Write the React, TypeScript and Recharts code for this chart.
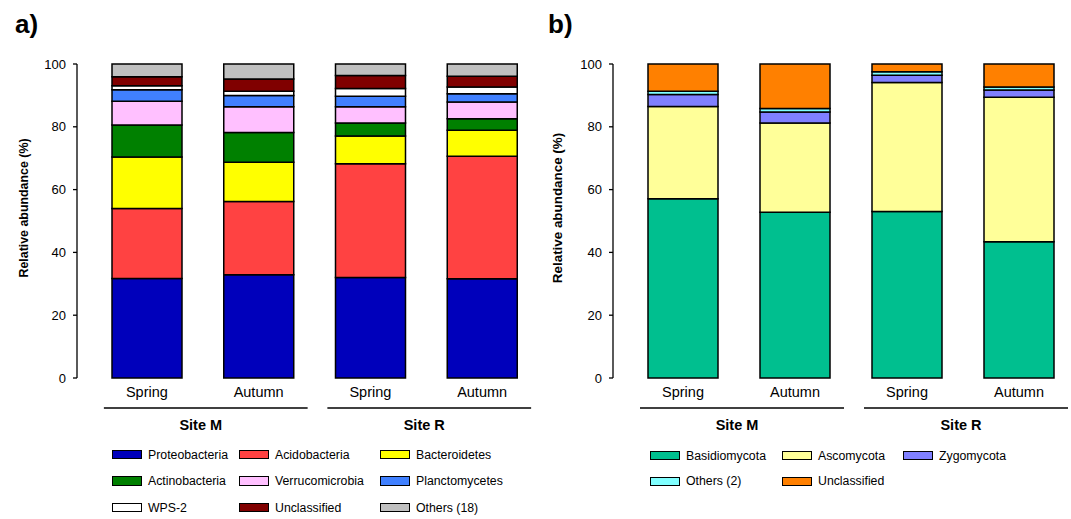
import React from 'react';
import { BarChart, Bar, XAxis, YAxis } from 'recharts';

// ---- data ----
const samples = ['Spring', 'Autumn', 'Spring', 'Autumn'];
const sites = ['Site M', 'Site M', 'Site R', 'Site R'];
const yTicks = [0, 20, 40, 60, 80, 100];

const bacteriaNames = ['Proteobacteria', 'Acidobacteria', 'Bacteroidetes', 'Actinobacteria', 'Verrucomicrobia', 'Planctomycetes', 'WPS-2', 'Unclassified', 'Others (18)'];
const bacteriaColors = ['#0000BB', '#FF4242', '#FFFF00', '#008000', '#FFC0FF', '#4080FF', '#FFFFFF', '#800000', '#C0C0C0'];
const proteobacteria = [31.7, 32.9, 32.0, 31.6];
const acidobacteria = [22.3, 23.3, 36.2, 39.0];
const bacteroidetes = [16.4, 12.5, 8.9, 8.3];
const actinobacteria = [10.2, 9.5, 4.1, 3.7];
const verrucomicrobia = [7.5, 8.2, 5.2, 5.3];
const planctomycetes = [3.7, 3.6, 3.3, 2.6];
const wps2 = [1.3, 1.3, 2.5, 2.2];
const bacteriaUnclassified = [2.8, 3.9, 4.1, 3.4];
const bacteriaOthers = [4.1, 4.8, 3.7, 3.9];
const bacteriaValues = [proteobacteria, acidobacteria, bacteroidetes, actinobacteria, verrucomicrobia, planctomycetes, wps2, bacteriaUnclassified, bacteriaOthers];

const fungiNames = ['Basidiomycota', 'Ascomycota', 'Zygomycota', 'Others (2)', 'Unclassified'];
const fungiColors = ['#00BF8F', '#FFFF99', '#8080FF', '#80FFFF', '#FF8000'];
const basidiomycota = [57.1, 52.8, 53.0, 43.4];
const ascomycota = [29.4, 28.4, 41.1, 46.0];
const zygomycota = [3.8, 3.5, 2.3, 2.3];
const fungiOthers = [1.0, 1.1, 1.1, 1.0];
const fungiUnclassified = [8.7, 14.2, 2.5, 7.3];
const fungiValues = [basidiomycota, ascomycota, zygomycota, fungiOthers, fungiUnclassified];

function buildRows(values: number[][]) {
  return samples.map((s, i) => {
    const row: any = { id: sites[i] + ' ' + s };
    values.forEach((arr, k) => { row['s' + k] = arr[i]; });
    return row;
  });
}

const FONT = '"Liberation Sans", Arial, sans-serif';

function makeTick(band: number) {
  return (props: any) => {
    const { x, y, payload } = props;
    const i = payload && payload.index != null ? payload.index : props.index;
    return (
      <g>
        <text x={x} y={y + 19} textAnchor="middle" fontSize={14.5} fill="#000">{samples[i]}</text>
        {i % 2 === 0 ? (
          <g>
            <line x1={x - 43} x2={x + band + 49} y1={y + 30} y2={y + 30} stroke="#000" strokeWidth={1.5} />
            <text x={x + band / 2 - 2} y={y + 52} textAnchor="middle" fontSize={14.5} fontWeight="bold" fill="#000">{sites[i]}</text>
          </g>
        ) : null}
      </g>
    );
  };
}

type PanelProps = {
  names: string[];
  colors: string[];
  values: number[][];
  left: number;
  width: number;
  yAxisWidth: number;
  labelX: number;
  labelSize: number;
};

function Panel({ names, colors, values, left, width, yAxisWidth, labelX, labelSize }: PanelProps) {
  const data = buildRows(values);
  const band = (width - yAxisWidth - 14) / 4;
  const yLabel = () => (
    <text
      x={labelX}
      y={208}
      transform={`rotate(-90, ${labelX}, 208)`}
      textAnchor="middle"
      dy="0.35em"
      fontSize={labelSize}
      fontWeight="bold"
      fill="#000"
    >
      Relative abundance (%)
    </text>
  );
  return (
    <div style={{ position: 'absolute', left, top: 0 }}>
      <BarChart width={width} height={519} data={data} margin={{ top: 64, right: 0, bottom: 81, left: 0 }}>
        <XAxis
          dataKey="id"
          height={60}
          axisLine={false}
          tickLine={false}
          tickSize={0}
          tickMargin={0}
          interval={0}
          padding={{ left: 14, right: 0 }}
          tick={makeTick(band)}
        />
        <YAxis
          width={yAxisWidth}
          domain={[0, 100]}
          ticks={yTicks}
          interval={0}
          tickSize={4}
          tickMargin={7}
          axisLine={{ stroke: '#000', strokeWidth: 1.3 }}
          tickLine={{ stroke: '#000', strokeWidth: 1.3 }}
          tick={{ fill: '#000', fontSize: 13 }}
          label={yLabel}
        />
        {names.map((n, k) => (
          <Bar
            key={n}
            dataKey={'s' + k}
            name={n}
            stackId="a"
            fill={colors[k]}
            stroke="#000"
            strokeWidth={1.5}
            barSize={70}
            isAnimationActive={false}
          />
        ))}
      </BarChart>
    </div>
  );
}

function LegendGrid({ names, colors, cols, rows }: { names: string[]; colors: string[]; cols: number[]; rows: number[] }) {
  return (
    <>
      {names.map((n, k) => {
        const c = k % 3;
        const r = Math.floor(k / 3);
        return (
          <div
            key={n}
            style={{
              position: 'absolute',
              left: cols[c],
              top: rows[r] - 8,
              height: 16,
              display: 'flex',
              alignItems: 'center',
              whiteSpace: 'nowrap',
              fontSize: 12.3,
              color: '#000',
            }}
          >
            <span
              style={{
                display: 'inline-block',
                width: 30,
                height: 9.5,
                boxSizing: 'border-box',
                border: '1.5px solid #000',
                background: colors[k],
                marginRight: 6,
              }}
            />
            <span>{n}</span>
          </div>
        );
      })}
    </>
  );
}

export default function App() {
  return (
    <div
      style={{
        position: 'absolute',
        left: 0,
        top: 0,
        width: 1071,
        height: 519,
        overflow: 'hidden',
        background: '#fff',
        fontFamily: FONT,
      }}
    >
      <div style={{ position: 'absolute', left: 15, top: 11, fontSize: 26, lineHeight: '26px', fontWeight: 'bold' }}>a)</div>
      <div style={{ position: 'absolute', left: 548, top: 11, fontSize: 26, lineHeight: '26px', fontWeight: 'bold' }}>b)</div>
      <Panel names={bacteriaNames} colors={bacteriaColors} values={bacteriaValues} left={0} width={538} yAxisWidth={77} labelX={23.5} labelSize={12.4} />
      <Panel names={fungiNames} colors={fungiColors} values={fungiValues} left={540} width={535} yAxisWidth={73} labelX={17.5} labelSize={13.4} />
      <LegendGrid names={bacteriaNames} colors={bacteriaColors} cols={[112, 239, 380]} rows={[454.7, 481, 507.5]} />
      <LegendGrid names={fungiNames} colors={fungiColors} cols={[650, 782, 903]} rows={[455.5, 481.3]} />
    </div>
  );
}
